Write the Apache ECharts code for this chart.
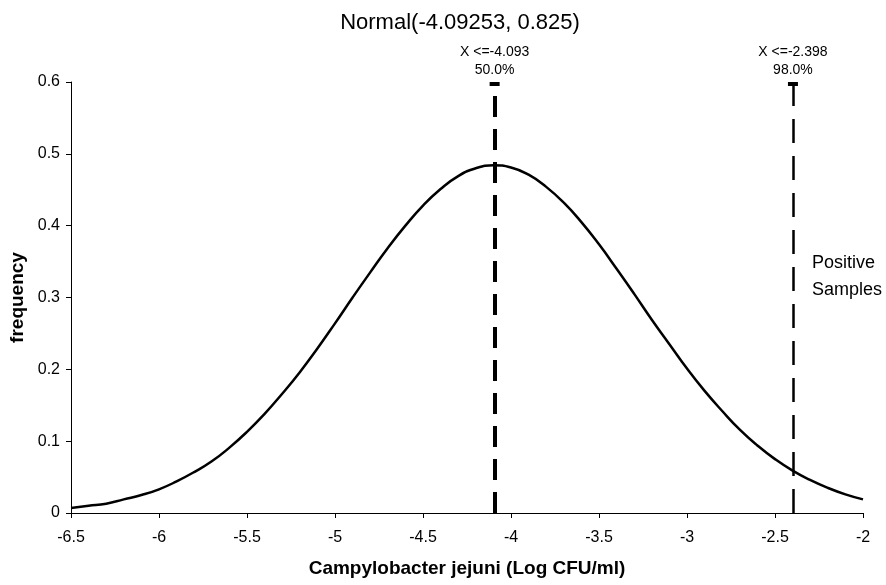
<!DOCTYPE html>
<html>
<head>
<meta charset="utf-8">
<script src="https://cdn.jsdelivr.net/npm/echarts@6/dist/echarts.min.js"></script>
<style>
html,body{margin:0;padding:0;background:#fff;}
#chart{width:886px;height:585px;}
</style>
</head>
<body>
<div id="chart"></div>
<script>
// Curve samples (x in Log CFU/ml, y = frequency)
const curveX = [-6.5,-6.4,-6.3,-6.2,-6.1,-6.0,-5.9,-5.8,-5.7,-5.6,-5.5,-5.4,-5.3,-5.2,-5.1,-5.0,-4.9,-4.8,-4.7,-4.6,-4.5,-4.4,-4.3,-4.2,-4.1,-4.0,-3.9,-3.8,-3.7,-3.6,-3.5,-3.4,-3.3,-3.2,-3.1,-3.0,-2.9,-2.8,-2.7,-2.6,-2.5,-2.4,-2.3,-2.2,-2.1,-2.0];
const curveY = [0.007,0.010,0.013,0.019,0.025,0.033,0.044,0.057,0.072,0.091,0.113,0.138,0.166,0.196,0.229,0.264,0.300,0.335,0.369,0.400,0.428,0.451,0.469,0.480,0.484,0.481,0.471,0.454,0.432,0.405,0.374,0.340,0.305,0.269,0.235,0.201,0.170,0.142,0.116,0.094,0.075,0.059,0.046,0.035,0.026,0.019];
// Percentile markers
const markerX = [-4.093, -2.398];
const markerPct = ['50.0%', '98.0%'];
const xTicks = {min: -6.5, max: -2, interval: 0.5};
const yTicks = {min: 0, max: 0.6, interval: 0.1};

const chart = echarts.init(document.getElementById('chart'));
const sans = '"Liberation Sans", Arial, sans-serif';

const lineData = curveX.map((x, i) => [x, curveY[i]]);
const markerStyles = [
  {width: 4, type: [21, 12]},
  {width: 2.5, type: [24, 13]}
];

chart.setOption({
  animation: false,
  backgroundColor: '#fff',
  title: {
    text: 'Normal(-4.09253, 0.825)',
    left: 455, textAlign: 'center', top: 7,
    textStyle: {fontFamily: sans, fontSize: 22, fontWeight: 'normal', color: '#000'}
  },
  grid: {left: 71, right: 23, top: 82, bottom: 72, outerBoundsMode: 'none'},
  xAxis: {
    type: 'value', min: xTicks.min, max: xTicks.max, interval: xTicks.interval,
    name: 'Campylobacter jejuni (Log CFU/ml)', nameLocation: 'middle', nameGap: 46,
    nameTextStyle: {fontFamily: sans, fontSize: 19, fontWeight: 'bold', color: '#000'},
    axisLine: {lineStyle: {color: '#000', width: 1}},
    axisTick: {lineStyle: {color: '#000'}, length: 5},
    axisLabel: {fontFamily: sans, fontSize: 16, color: '#000', margin: 17},
    splitLine: {show: false}
  },
  yAxis: {
    type: 'value', min: yTicks.min, max: yTicks.max, interval: yTicks.interval,
    name: 'frequency', nameLocation: 'middle', nameGap: 44, nameRotate: 90,
    nameTextStyle: {fontFamily: sans, fontSize: 19, fontWeight: 'bold', color: '#000'},
    axisLine: {show: true, lineStyle: {color: '#000', width: 1}},
    axisTick: {show: true, lineStyle: {color: '#000'}, length: 5},
    axisLabel: {fontFamily: sans, fontSize: 16, color: '#000', margin: 11},
    splitLine: {show: false}
  },
  graphic: [{
    type: 'text', left: 812, top: 250,
    style: {text: 'Positive\nSamples', font: '18px "Liberation Sans", Arial, sans-serif', fill: '#000', lineHeight: 27}
  }],
  series: [{
    type: 'line',
    data: lineData,
    showSymbol: false,
    smooth: true,
    lineStyle: {color: '#000', width: 2.5},
    z: 3,
    markLine: {
      silent: true,
      symbol: ['none', 'none'],
      data: markerX.map((x, i) => [
        {coord: [x, yTicks.min]},
        {coord: [x, yTicks.max],
         lineStyle: {color: '#000', width: markerStyles[i].width, type: markerStyles[i].type},
         label: {show: true, position: 'end', distance: 3,
                 formatter: 'X <=' + x.toFixed(3) + '\n' + markerPct[i],
                 fontFamily: sans, fontSize: 14, color: '#000', lineHeight: 18}}
      ])
    },
    markPoint: {
      silent: true,
      symbol: 'rect',
      symbolSize: [10, 4],
      symbolOffset: [0, 2],
      label: {show: false},
      itemStyle: {color: '#000'},
      data: markerX.map(x => ({coord: [x, yTicks.max]}))
    }
  }]
});
</script>
</body>
</html>
